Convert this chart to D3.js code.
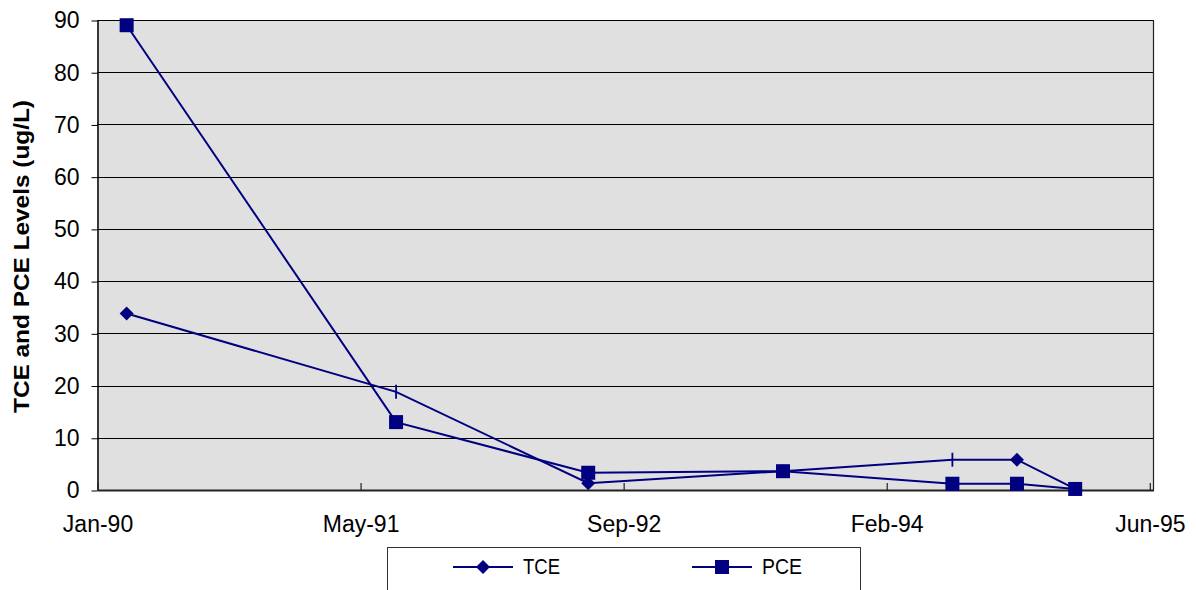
<!DOCTYPE html>
<html>
<head>
<meta charset="utf-8">
<script src="https://cdn.jsdelivr.net/npm/d3@7"></script>
<style>
  html, body { margin: 0; padding: 0; background: #fff; }
  svg { display: block; font-family: "Liberation Sans", Arial, sans-serif; }
</style>
</head>
<body>
<svg id="chart" width="1196" height="590"></svg>
<script>
// ---- data ----
const sampleDates = ["1990-03-02", "1991-07-24", "1992-07-21", "1993-07-24", "1994-06-09", "1994-10-09", "1995-01-27"];
const tceValues   = [33.8, 18.8, 1.3, 3.6, 5.8, 5.8, 0.2];
const pceValues   = [89, 13, 3.3, 3.6, 1.2, 1.2, 0.2];
const tceMarkers  = ["diamond", "dash", "diamond", "diamond", "dash", "diamond", "diamond"];
const xTickDates  = ["1990-01-05", "1991-05-17", "1992-09-25", "1994-02-04", "1995-06-16"];
const xTickLabels = ["Jan-90", "May-91", "Sep-92", "Feb-94", "Jun-95"];
const yTicks      = [0, 10, 20, 30, 40, 50, 60, 70, 80, 90];
const seriesNames = ["TCE", "PCE"];
const yTitle = "TCE and PCE Levels (ug/L)";

// ---- setup ----
const parse = d3.utcParse("%Y-%m-%d");
const svg = d3.select("#chart");
const pLeft = 97, pRight = 1153, pTop = 20, pBottom = 490;
const navy = "#000080";
const FONT = "Liberation Sans, Arial, sans-serif";

const x = d3.scaleUtc()
  .domain([parse("1990-01-05"), parse("1995-06-23")])
  .range([pLeft, pRight]);
const y = d3.scaleLinear().domain([0, 90]).range([pBottom, pTop]);

// plot background
svg.append("rect")
  .attr("x", pLeft).attr("y", pTop)
  .attr("width", pRight - pLeft).attr("height", pBottom - pTop)
  .attr("fill", "#e0e0e0");

// gridlines
svg.append("g").selectAll("line").data(yTicks.filter(v => v > 0)).join("line")
  .attr("x1", pLeft).attr("x2", pRight)
  .attr("y1", d => Math.round(y(d)) + 0.5).attr("y2", d => Math.round(y(d)) + 0.5)
  .attr("stroke", "#000").attr("stroke-width", 1);

// right border
svg.append("line")
  .attr("x1", pRight + 0.5).attr("x2", pRight + 0.5)
  .attr("y1", pTop).attr("y2", pBottom)
  .attr("stroke", "#222").attr("stroke-width", 1.2);

// y axis
const yAxis = d3.axisLeft(y).tickValues(yTicks).tickSize(6).tickPadding(12).tickSizeOuter(0);
const gy = svg.append("g").attr("transform", `translate(${pLeft + 0.5},0.5)`).call(yAxis);
gy.select(".domain").attr("stroke", "#000").attr("stroke-width", 1.5);
gy.selectAll(".tick line").attr("stroke", "#000");
gy.selectAll(".tick text")
  .attr("font-size", 23).attr("fill", "#000").attr("font-family", FONT);

// x axis
const xAxis = d3.axisBottom(x)
  .tickValues(xTickDates.map(parse))
  .tickFormat((d, i) => xTickLabels[i])
  .tickSizeInner(-7).tickSizeOuter(0).tickPadding(26);
const gx = svg.append("g").attr("transform", `translate(0.5,${pBottom})`).call(xAxis);
gx.select(".domain").attr("stroke", "#222").attr("stroke-width", 2);
gx.selectAll(".tick line").attr("stroke", "#222").attr("stroke-width", 1.2);
gx.selectAll(".tick text")
  .attr("font-size", 23).attr("fill", "#000").attr("font-family", FONT);

// y title
svg.append("text")
  .attr("transform", `translate(29,${(100 + 413) / 2}) rotate(-90)`)
  .attr("text-anchor", "middle")
  .attr("font-size", 22).attr("font-weight", "bold")
  .attr("textLength", 313).attr("lengthAdjust", "spacingAndGlyphs")
  .text(yTitle);

// lines
const pts = (vals) => sampleDates.map((d, i) => [x(parse(d)), y(vals[i])]);
const line = d3.line();
svg.append("path").attr("d", line(pts(pceValues)))
  .attr("fill", "none").attr("stroke", navy).attr("stroke-width", 2);
svg.append("path").attr("d", line(pts(tceValues)))
  .attr("fill", "none").attr("stroke", navy).attr("stroke-width", 2);

// markers
const diamond = (cx, cy, r) => `M${cx},${cy - r}L${cx + r},${cy}L${cx},${cy + r}L${cx - r},${cy}Z`;
const g = svg.append("g");
pts(tceValues).forEach((p, i) => {
  if (tceMarkers[i] === "diamond") {
    g.append("path").attr("d", diamond(p[0], p[1], 7)).attr("fill", navy);
  } else {
    g.append("line").attr("x1", p[0]).attr("x2", p[0])
      .attr("y1", p[1] - 7).attr("y2", p[1] + 7)
      .attr("stroke", navy).attr("stroke-width", 1.8);
  }
});
pts(pceValues).forEach(p => {
  g.append("rect").attr("x", p[0] - 7).attr("y", p[1] - 7)
    .attr("width", 14).attr("height", 14).attr("fill", navy);
});

// legend
const leg = svg.append("g");
leg.append("rect").attr("x", 387.5).attr("y", 547.5).attr("width", 473).attr("height", 60)
  .attr("fill", "#fff").attr("stroke", "#333").attr("stroke-width", 1);
const legItems = [
  { name: seriesNames[0], x0: 453, type: "diamond", w: 37 },
  { name: seriesNames[1], x0: 692, type: "square", w: 40 }
];
legItems.forEach(it => {
  const cy = 567;
  leg.append("line").attr("x1", it.x0).attr("x2", it.x0 + 60)
    .attr("y1", cy).attr("y2", cy).attr("stroke", navy).attr("stroke-width", 2);
  if (it.type === "diamond") {
    leg.append("path").attr("d", diamond(it.x0 + 30, cy, 7)).attr("fill", navy);
  } else {
    leg.append("rect").attr("x", it.x0 + 23).attr("y", cy - 7)
      .attr("width", 14).attr("height", 14).attr("fill", navy);
  }
  leg.append("text").attr("x", it.x0 + 70).attr("y", 574)
    .attr("font-size", 22)
    .attr("textLength", it.w).attr("lengthAdjust", "spacingAndGlyphs")
    .text(it.name);
});
</script>
</body>
</html>
